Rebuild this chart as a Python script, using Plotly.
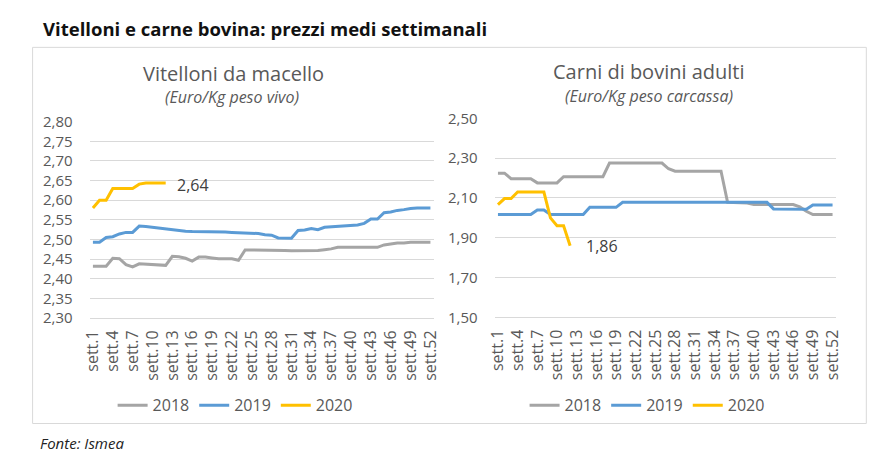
import plotly.graph_objects as go

weeks = [f"sett.{i}" for i in range(1, 53)]
tick_labels = weeks[0::3]

# Vitelloni da macello (Euro/Kg peso vivo)
vit_2018 = [2.432, 2.432, 2.432, 2.452, 2.451, 2.436, 2.430, 2.438, 2.437, 2.436,
            2.435, 2.434, 2.457, 2.456, 2.452, 2.445, 2.455, 2.455, 2.453, 2.451,
            2.451, 2.451, 2.447, 2.473, 2.473, 2.473, 2.473, 2.472, 2.472, 2.472,
            2.471, 2.471, 2.471, 2.471, 2.472, 2.474, 2.476, 2.480, 2.480, 2.480,
            2.480, 2.480, 2.480, 2.480, 2.486, 2.489, 2.491, 2.491, 2.493, 2.493,
            2.493, 2.493]
vit_2019 = [2.493, 2.493, 2.505, 2.507, 2.514, 2.518, 2.518, 2.534, 2.533, 2.531,
            2.528, 2.526, 2.524, 2.523, 2.521, 2.520, 2.520, 2.520, 2.520, 2.520,
            2.519, 2.518, 2.517, 2.516, 2.516, 2.515, 2.512, 2.511, 2.504, 2.503,
            2.503, 2.523, 2.524, 2.528, 2.525, 2.531, 2.532, 2.533, 2.534, 2.536,
            2.537, 2.541, 2.552, 2.552, 2.568, 2.570, 2.574, 2.576, 2.579, 2.580,
            2.580, 2.580]
vit_2020 = [2.58, 2.60, 2.60, 2.63, 2.63, 2.63, 2.63, 2.641, 2.644, 2.644, 2.644, 2.644]

# Carni di bovini adulti (Euro/Kg peso carcassa)
car_2018 = [2.225, 2.225, 2.197, 2.197, 2.197, 2.197, 2.176, 2.176, 2.176, 2.176,
            2.207, 2.207, 2.207, 2.207, 2.207, 2.207, 2.207, 2.276, 2.276, 2.276,
            2.276, 2.276, 2.276, 2.276, 2.276, 2.276, 2.247, 2.235, 2.235, 2.235,
            2.235, 2.235, 2.235, 2.235, 2.235, 2.078, 2.078, 2.078, 2.075, 2.067,
            2.067, 2.067, 2.067, 2.067, 2.067, 2.067, 2.055, 2.033, 2.017, 2.017,
            2.017, 2.017]
car_2019 = [2.017, 2.017, 2.017, 2.017, 2.017, 2.017, 2.040, 2.040, 2.017, 2.017,
            2.017, 2.017, 2.017, 2.017, 2.053, 2.053, 2.053, 2.053, 2.053, 2.078,
            2.078, 2.078, 2.078, 2.078, 2.078, 2.078, 2.078, 2.078, 2.078, 2.078,
            2.078, 2.078, 2.078, 2.078, 2.078, 2.078, 2.078, 2.078, 2.078, 2.078,
            2.078, 2.078, 2.045, 2.045, 2.045, 2.045, 2.045, 2.043, 2.065, 2.065,
            2.065, 2.065]
car_2020 = [2.067, 2.097, 2.097, 2.13, 2.13, 2.13, 2.13, 2.13, 2.00, 1.96, 1.96, 1.86]

years = ["2018", "2019", "2020"]
colors = {"2018": "#a5a5a5", "2019": "#5b9bd5", "2020": "#ffc000"}

FONT = "Open Sans"
TXT = "#595959"
W, H = 892, 466


def px(x):
    return x / W


def py(y):
    return 1 - y / H


fig = go.Figure()

left = {"2018": vit_2018, "2019": vit_2019, "2020": vit_2020}
right = {"2018": car_2018, "2019": car_2019, "2020": car_2020}

for yr in years:
    vals = left[yr]
    fig.add_trace(go.Scatter(x=weeks[:len(vals)], y=vals, mode="lines", name=yr,
                             line=dict(color=colors[yr], width=3),
                             xaxis="x", yaxis="y", legend="legend"))
for yr in years:
    vals = right[yr]
    fig.add_trace(go.Scatter(x=weeks[:len(vals)], y=vals, mode="lines", name=yr,
                             line=dict(color=colors[yr], width=3),
                             xaxis="x2", yaxis="y2", legend="legend2"))

xcommon = dict(type="category", categoryorder="array", categoryarray=weeks,
               range=[-0.5, 51.5], tickmode="array", tickvals=tick_labels,
               ticktext=tick_labels, tickangle=-90, showgrid=False,
               showline=True, linecolor="#d9d9d9", linewidth=1, ticks="",
               tickfont=dict(family=FONT, size=16, color=TXT),
               ticklabelstandoff=5, fixedrange=True)
ycommon = dict(showgrid=True, gridcolor="#d9d9d9", gridwidth=1, zeroline=False,
               showline=False, ticks="", tickformat=".2f",
               tickfont=dict(family=FONT, size=15, color=TXT),
               ticklabelstandoff=16)

fig.update_layout(
    width=W, height=H,
    margin=dict(l=0, r=0, t=0, b=0),
    paper_bgcolor="white", plot_bgcolor="white",
    separators=",.",
    font=dict(family=FONT, color=TXT),
    xaxis=dict(domain=[px(83), px(433)], anchor="y", **xcommon),
    yaxis=dict(domain=[py(320.7), py(115.7)], anchor="x", range=[2.30, 2.80],
               dtick=0.05, tick0=2.30, **ycommon),
    xaxis2=dict(domain=[px(495), px(842)], anchor="y2", **xcommon),
    yaxis2=dict(domain=[py(320), py(112.3)], anchor="x2", range=[1.50, 2.50],
                dtick=0.2, tick0=1.50, **ycommon),
    legend=dict(orientation="h", x=px(231), xanchor="center", y=py(412),
                yanchor="middle", font=dict(family=FONT, size=16, color=TXT),
                bgcolor="rgba(0,0,0,0)", itemwidth=30),
    legend2=dict(orientation="h", x=px(650), xanchor="center", y=py(412),
                 yanchor="middle", font=dict(family=FONT, size=16, color=TXT),
                 bgcolor="rgba(0,0,0,0)", itemwidth=30),
    showlegend=True,
)

# outer frame
fig.add_shape(type="rect", xref="paper", yref="paper",
              x0=px(25), x1=px(873), y0=py(431), y1=py(38),
              line=dict(color="#d9d9d9", width=1), layer="below")

ann = [
    dict(text="<b>Vitelloni e carne bovina: prezzi medi settimanali</b>", x=px(34), y=py(18),
         xanchor="left", font=dict(family=FONT, size=18.5, color="#111111")),
    dict(text="Vitelloni da macello", x=px(229), y=py(65), xanchor="center",
         font=dict(family=FONT, size=20, color=TXT)),
    dict(text="<i>(Euro/Kg peso vivo)</i>", x=px(228), y=py(90), xanchor="center",
         font=dict(family=FONT, size=16, color=TXT)),
    dict(text="Carni di bovini adulti", x=px(652), y=py(63), xanchor="center",
         font=dict(family=FONT, size=20, color=TXT)),
    dict(text="<i>(Euro/Kg peso carcassa)</i>", x=px(652), y=py(89), xanchor="center",
         font=dict(family=FONT, size=16, color=TXT)),
    dict(text="<i>Fonte: Ismea</i>", x=px(31), y=py(451), xanchor="left",
         font=dict(family=FONT, size=15, color="#222222")),
]
for a in ann:
    fig.add_annotation(xref="paper", yref="paper", yanchor="middle", showarrow=False, **a)

# end labels for 2020
fig.add_annotation(x=weeks[len(vit_2020) - 1], y=vit_2020[-1], xref="x", yref="y",
                   text=f"{vit_2020[-1]:.2f}".replace(".", ","), showarrow=False,
                   xanchor="left", yanchor="middle", xshift=9, yshift=-2,
                   font=dict(family=FONT, size=16, color="#404040"))
fig.add_annotation(x=weeks[len(car_2020) - 1], y=car_2020[-1], xref="x2", yref="y2",
                   text=f"{car_2020[-1]:.2f}".replace(".", ","), showarrow=False,
                   xanchor="left", yanchor="middle", xshift=14, yshift=0,
                   font=dict(family=FONT, size=16, color="#404040"))

fig.write_html("out.html", config={"displayModeBar": False},
               post_script="document.body.style.margin='0';document.body.style.overflow='hidden';")
